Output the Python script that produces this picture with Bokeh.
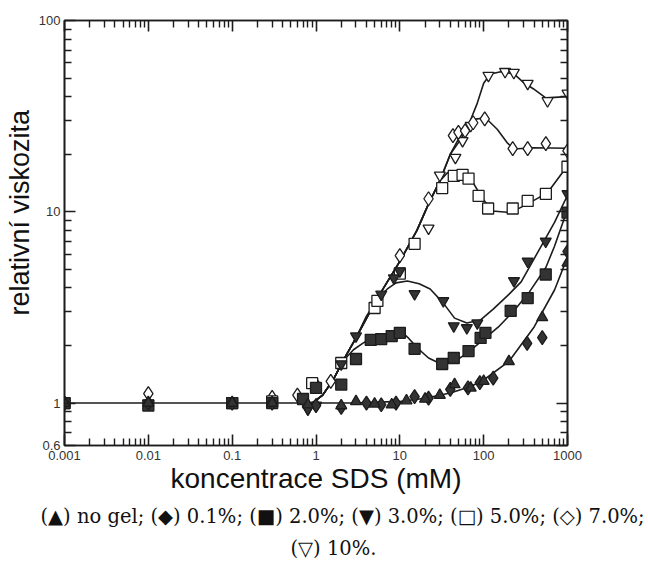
from bokeh.plotting import figure
from bokeh.models import LogAxis, FixedTicker, Title, Range1d
from bokeh.embed import file_html
from bokeh.resources import INLINE

# ---------------- data ----------------
x_ticks = [0.001, 0.01, 0.1, 1, 10, 100, 1000]
x_tick_labels = ["0.001", "0.01", "0.1", "1", "10", "100", "1000"]
y_ticks = [0.6, 1, 10, 100]
y_tick_labels = ["0.6", "1", "10", "100"]

# (▲) no gel
nogel_x = [0.001, 0.01, 0.1, 0.3, 0.8, 2, 3, 5, 8, 12, 20, 30, 45, 70, 100, 200, 500, 1000]
nogel_y = [1.0, 1.0, 1.0, 1.0, 0.98, 0.97, 1.02, 0.99, 0.98, 1.03, 1.05, 1.1, 1.25, 1.2, 1.3, 1.65, 2.8, 5.4]
# (◆) 0.1 %
g01_x = [0.001, 0.01, 0.1, 0.3, 1, 2, 4, 6, 9, 15, 22, 40, 65, 90, 130, 330, 500, 1000]
g01_y = [1.0, 1.0, 1.0, 1.0, 0.97, 0.95, 1.0, 0.98, 1.0, 1.08, 1.06, 1.18, 1.2, 1.28, 1.35, 2.05, 2.2, 6.2]
# (■) 2.0 %
g2_x = [0.001, 0.01, 0.1, 0.3, 0.7, 1, 2, 3, 4.5, 6, 8, 10, 15, 32, 44, 66, 92, 105, 210, 335, 550, 1000]
g2_y = [1.0, 0.97, 1.0, 1.0, 1.05, 1.2, 1.25, 1.7, 2.14, 2.16, 2.24, 2.33, 1.92, 1.6, 1.72, 1.87, 2.19, 2.33, 3.03, 3.54, 4.7, 9.9]
# (▼) 3.0 %
g3_x = [0.001, 0.01, 0.1, 0.3, 0.8, 1, 2, 3, 6, 8.5, 10, 15, 33, 44, 63, 84, 230, 335, 550, 1000]
g3_y = [1.0, 1.0, 1.0, 1.0, 0.93, 0.97, 1.6, 2.24, 3.7, 4.5, 4.9, 3.72, 3.42, 2.53, 2.47, 2.62, 4.35, 5.5, 7.0, 12.4]
# (□) 5.0 %
g5_x = [0.001, 0.1, 0.3, 0.9, 2, 5, 5.4, 10, 15, 32, 44, 56, 66, 87, 113, 222, 335, 552, 1000]
g5_y = [1.0, 1.0, 1.02, 1.27, 1.62, 3.14, 3.42, 4.75, 6.8, 13.3, 15.4, 15.6, 14.9, 12.1, 10.4, 10.4, 11.4, 12.4, 17.2]
# (◇) 7.0 %
g7_x = [0.001, 0.01, 0.3, 0.6, 1, 1.5, 10, 22, 43, 50, 60, 75, 103, 222, 335, 552, 1000]
g7_y = [1.0, 1.12, 1.07, 1.1, 1.25, 1.3, 5.9, 11.7, 25, 26, 26.5, 29.2, 30.6, 21.4, 21.4, 22.7, 20.8]
# (▽) 10 %
g10_x = [0.001, 0.1, 0.8, 1, 22, 30, 46, 56, 70, 114, 180, 229, 335, 578, 1000]
g10_y = [1.0, 1.0, 0.93, 0.97, 8.2, 15.5, 19.2, 23.5, 28.2, 51.6, 54, 53.4, 46.8, 38, 41.6]

# fitted curves
c_low_x = [0.001, 0.01, 0.1, 1, 3, 10, 20, 40, 70, 100, 200, 400, 700, 1000]
c_low_y = [1.0, 1.0, 1.0, 1.0, 1.0, 1.02, 1.06, 1.13, 1.22, 1.32, 1.65, 2.5, 3.9, 5.8]
c_g2_x = [0.9, 1.2, 1.6, 2.1, 2.8, 3.6, 4.5, 6, 9, 10.5, 12.5, 16, 22, 31, 45, 63, 100, 150, 228, 350, 550, 700, 1000]
c_g2_y = [1.0, 1.1, 1.32, 1.66, 1.9, 2.05, 2.18, 2.28, 2.35, 2.36, 2.2, 1.95, 1.72, 1.6, 1.65, 1.82, 2.15, 2.5, 3.03, 3.8, 5.1, 6.6, 10.3]
c_g3_x = [0.9, 1.2, 1.6, 2.1, 3, 4, 5.4, 7.1, 9, 12.3, 17, 23, 33, 45, 63, 92, 130, 200, 280, 475, 700, 1000]
c_g3_y = [1.0, 1.1, 1.32, 1.66, 2.19, 2.85, 3.5, 3.95, 4.25, 4.35, 4.2, 3.95, 3.33, 2.78, 2.62, 2.72, 3.1, 3.7, 4.3, 6.5, 8.8, 12.2]
c_g5_x = [0.9, 1.2, 1.6, 2.1, 3, 5.4, 10, 16, 22, 30, 37, 48, 70, 96, 127, 210, 335, 580, 1000]
c_g5_y = [1.0, 1.1, 1.32, 1.66, 2.19, 3.54, 5.5, 8.0, 11.0, 14.5, 16.0, 15.8, 14.9, 11.8, 10.1, 9.9, 11.0, 12.6, 17.4]
c_g7_x = [0.9, 1.2, 1.6, 2.1, 3, 5.4, 10, 16, 22, 30, 40, 50, 63, 80, 105, 145, 190, 230, 390, 1000]
c_g7_y = [1.0, 1.1, 1.32, 1.66, 2.19, 3.54, 5.5, 8.0, 11.0, 14.5, 20.0, 24.0, 28.0, 30.5, 31.0, 27.0, 23.0, 21.3, 21.6, 21.5]
c_g10_x = [0.9, 1.2, 1.6, 2.1, 3, 5.4, 10, 16, 22, 30, 40, 50, 63, 84, 100, 120, 160, 228, 300, 390, 550, 1000]
c_g10_y = [1.0, 1.1, 1.32, 1.66, 2.19, 3.54, 5.5, 8.0, 11.0, 14.5, 20.0, 23.0, 27.0, 37.0, 47.0, 52.5, 54.0, 52.7, 47.3, 44.0, 39.4, 40.0]

y_title = "relativní viskozita"
x_title = "koncentrace SDS (mM)"
caption_1 = "(\u25b2) no gel; (\u25c6) 0.1%; (\u25a0) 2.0%; (\u25bc) 3.0%; (\u25a1) 5.0%; (\u25c7)  7.0%;"
caption_2 = "(\u25bd) 10%."

# ---------------- figure ----------------
INK = "#1c1c1c"
p = figure(frame_width=503, frame_height=425, x_axis_type="log", y_axis_type="log",
           x_range=Range1d(0.001, 1000), y_range=Range1d(0.6, 100),
           output_backend="svg", toolbar_location=None,
           min_border_left=64, min_border_right=81, min_border_top=20, min_border_bottom=0)
p.grid.visible = False
p.outline_line_color = INK
p.outline_line_width = 1.6
p.background_fill_color = "white"
p.border_fill_color = "white"

x_minor = [m * d for d in x_ticks[:-1] for m in range(2, 10)]
y_minor = [0.7, 0.8, 0.9] + [m * d for d in [1, 10] for m in range(2, 10)]

def style(ax, ticks, labels, minor, show_labels):
    ax.ticker = FixedTicker(ticks=ticks, minor_ticks=minor)
    ax.major_label_overrides = {t: l for t, l in zip(ticks, labels)}
    ax.major_tick_in = 11
    ax.major_tick_out = 0
    ax.minor_tick_in = 7
    ax.minor_tick_out = 0
    ax.major_tick_line_color = INK
    ax.minor_tick_line_color = INK
    ax.major_tick_line_width = 1.6
    ax.minor_tick_line_width = 1.4
    ax.axis_line_color = INK
    ax.axis_line_width = 1.6
    ax.major_label_text_font = "Liberation Sans"
    ax.major_label_text_font_size = "13px"
    ax.major_label_text_color = "#333333" if show_labels else None
    ax.major_label_standoff = 4

xa = p.xaxis[0]
ya = p.yaxis[0]
style(xa, x_ticks, x_tick_labels, x_minor, True)
style(ya, y_ticks, y_tick_labels, y_minor, True)
xa.major_label_standoff = 5
xa.axis_label = x_title
xa.axis_label_text_font = "Liberation Sans"
xa.axis_label_text_font_style = "normal"
xa.axis_label_text_color = "#111111"
xa.axis_label_text_font_size = "28px"
xa.axis_label_standoff = 0

top = LogAxis()
style(top, x_ticks, x_tick_labels, x_minor, False)
top.major_label_text_font_size = "0px"
p.add_layout(top, "above")
right = LogAxis()
style(right, y_ticks, y_tick_labels, y_minor, False)
right.major_label_text_font_size = "0px"
p.add_layout(right, "right")

# y axis title (side title, so it can sit above centre as in the original)
ty = Title(text=y_title, align="left", offset=130, standoff=2,
           text_font="Liberation Sans", text_font_size="27px", text_font_style="normal",
           text_color="#111111")
p.add_layout(ty, "left")

# curves
for cx, cy in [(c_low_x, c_low_y), (c_g2_x, c_g2_y), (c_g3_x, c_g3_y),
               (c_g5_x, c_g5_y), (c_g7_x, c_g7_y), (c_g10_x, c_g10_y)]:
    p.line(cx, cy, line_color=INK, line_width=1.6)

FILL = "#333333"
series = [
    (g10_x, g10_y, "inverted_triangle", "white"),
    (g7_x, g7_y, "diamond", "white"),
    (g5_x, g5_y, "square", "white"),
    (g3_x, g3_y, "inverted_triangle", FILL),
    (g2_x, g2_y, "square", FILL),
    (g01_x, g01_y, "diamond", FILL),
    (nogel_x, nogel_y, "triangle", FILL),
]
for sx, sy, mk, fc in series:
    size = 14 if mk == "diamond" else 11
    p.scatter(sx, sy, marker=mk, size=size, fill_color=fc, line_color=INK, line_width=1.3)

t1 = Title(text=caption_1, align="left", offset=-24, standoff=13,
           text_font="DejaVu Serif", text_font_size="19.5px", text_font_style="normal",
           text_color="#111111")
t2 = Title(text=caption_2, align="left", offset=226, standoff=0,
           text_font="DejaVu Serif", text_font_size="19.5px", text_font_style="normal",
           text_color="#111111")
p.add_layout(t1, "below")
p.add_layout(t2, "below")

open("out.html", "w").write(file_html(p, INLINE))
